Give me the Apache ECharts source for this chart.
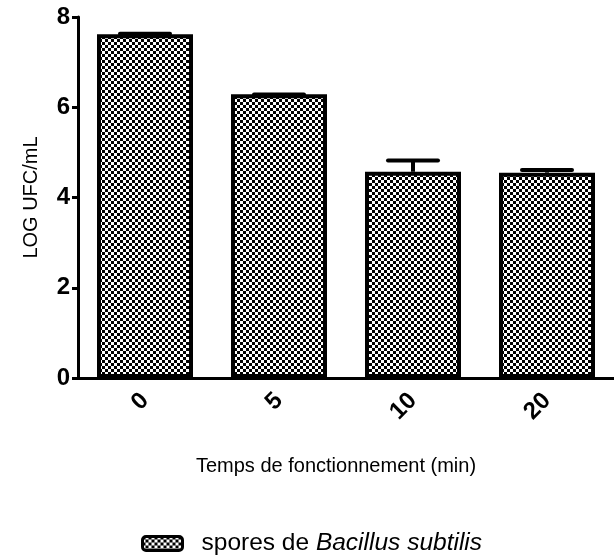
<!DOCTYPE html>
<html>
<head>
<meta charset="utf-8">
<script src="https://cdn.jsdelivr.net/npm/echarts@6/dist/echarts.min.js"></script>
<style>html,body{margin:0;padding:0;background:#fff;}#c{width:614px;height:560px;}</style>
</head>
<body>
<div id="c"></div>
<script>
const categories = ['0', '5', '10', '20'];
const meanValues = [7.62, 6.29, 4.57, 4.55];
const errorUpper = [7.63, 6.28, 4.82, 4.61];
const yTicks = [0, 2, 4, 6, 8];
const seriesName = 'spores de Bacillus subtilis';

const FONT = '"Liberation Sans", Arial, Helvetica, sans-serif';

function makePattern() {
  const c = document.createElement('canvas');
  c.width = 6; c.height = 6;
  const ctx = c.getContext('2d');
  ctx.fillStyle = '#ffffff';
  ctx.fillRect(0, 0, 6, 6);
  ctx.fillStyle = '#000000';
  ctx.fillRect(0, 0, 3, 3);
  ctx.fillRect(3, 3, 3, 3);
  return c;
}
const pattern = { image: makePattern(), repeat: 'repeat' };

const chart = echarts.init(document.getElementById('c'), null, { renderer: 'canvas' });

const errData = categories.map((c, i) => [i, meanValues[i], errorUpper[i]]);

chart.setOption({
  animation: false,
  backgroundColor: '#ffffff',
  textStyle: { fontFamily: FONT },
  grid: { left: 78, top: 17, width: 542, bottom: 182, containLabel: false },
  xAxis: {
    type: 'category',
    data: categories,
    boundaryGap: true,
    name: 'Temps de fonctionnement (min)',
    nameLocation: 'middle',
    nameGap: 78,
    nameTextStyle: { fontSize: 20, color: '#000', fontFamily: FONT, padding: [0, 20, 0, 0] },
    axisLine: { lineStyle: { color: '#000', width: 3 } },
    axisTick: { alignWithLabel: true, length: 8, lineStyle: { color: '#000', width: 3 } },
    axisLabel: { rotate: 45, margin: 19, fontSize: 24, fontWeight: 'bold', color: '#000', fontFamily: FONT },
    splitLine: { show: false }
  },
  yAxis: {
    type: 'value',
    min: 0, max: 8, interval: 2,
    name: 'LOG UFC/mL',
    nameLocation: 'middle',
    nameGap: 37,
    nameRotate: 90,
    nameTextStyle: { fontSize: 20, color: '#000', fontFamily: FONT },
    axisLine: { show: true, lineStyle: { color: '#000', width: 3 } },
    axisTick: { show: true, length: 6, lineStyle: { color: '#000', width: 3 } },
    axisLabel: { margin: 8, fontSize: 24, fontWeight: 'bold', color: '#000', fontFamily: FONT,
      formatter: v => (yTicks.indexOf(v) >= 0 ? String(v) : '') },
    splitLine: { show: false }
  },
  legend: {
    data: [seriesName],
    left: 136,
    top: 526,
    itemWidth: 40,
    itemHeight: 14,
    icon: 'roundRect',
    itemStyle: { borderWidth: 3, borderColor: '#000' },
    formatter: () => '{a|spores de }{b|Bacillus subtilis}',
    textStyle: {
      fontSize: 24, color: '#000', fontFamily: FONT, padding: [0, 0, 0, 14],
      rich: {
        a: { fontSize: 24.5, color: '#000', fontFamily: FONT },
        b: { fontSize: 24.5, color: '#000', fontStyle: 'italic', fontFamily: FONT }
      }
    }
  },
  series: [
    {
      name: seriesName,
      type: 'bar',
      data: meanValues,
      barWidth: 96,
      itemStyle: { color: pattern, borderColor: '#000', borderWidth: 4 },
      z: 2
    },
    {
      name: 'err',
      type: 'custom',
      data: errData,
      z: 3,
      encode: { x: 0, y: [1, 2] },
      renderItem: function (params, api) {
        const x = api.value(0);
        const lo = api.coord([x, api.value(1)]);
        const hi = api.coord([x, api.value(2)]);
        const half = 25;
        return {
          type: 'group',
          children: [
            { type: 'line', shape: { x1: lo[0], y1: lo[1], x2: hi[0], y2: hi[1] }, style: { stroke: '#000', lineWidth: 4 } },
            { type: 'line', shape: { x1: hi[0] - half, y1: hi[1], x2: hi[0] + half, y2: hi[1] }, style: { stroke: '#000', lineWidth: 4, lineCap: 'round' } }
          ]
        };
      }
    }
  ]
});
</script>
</body>
</html>
